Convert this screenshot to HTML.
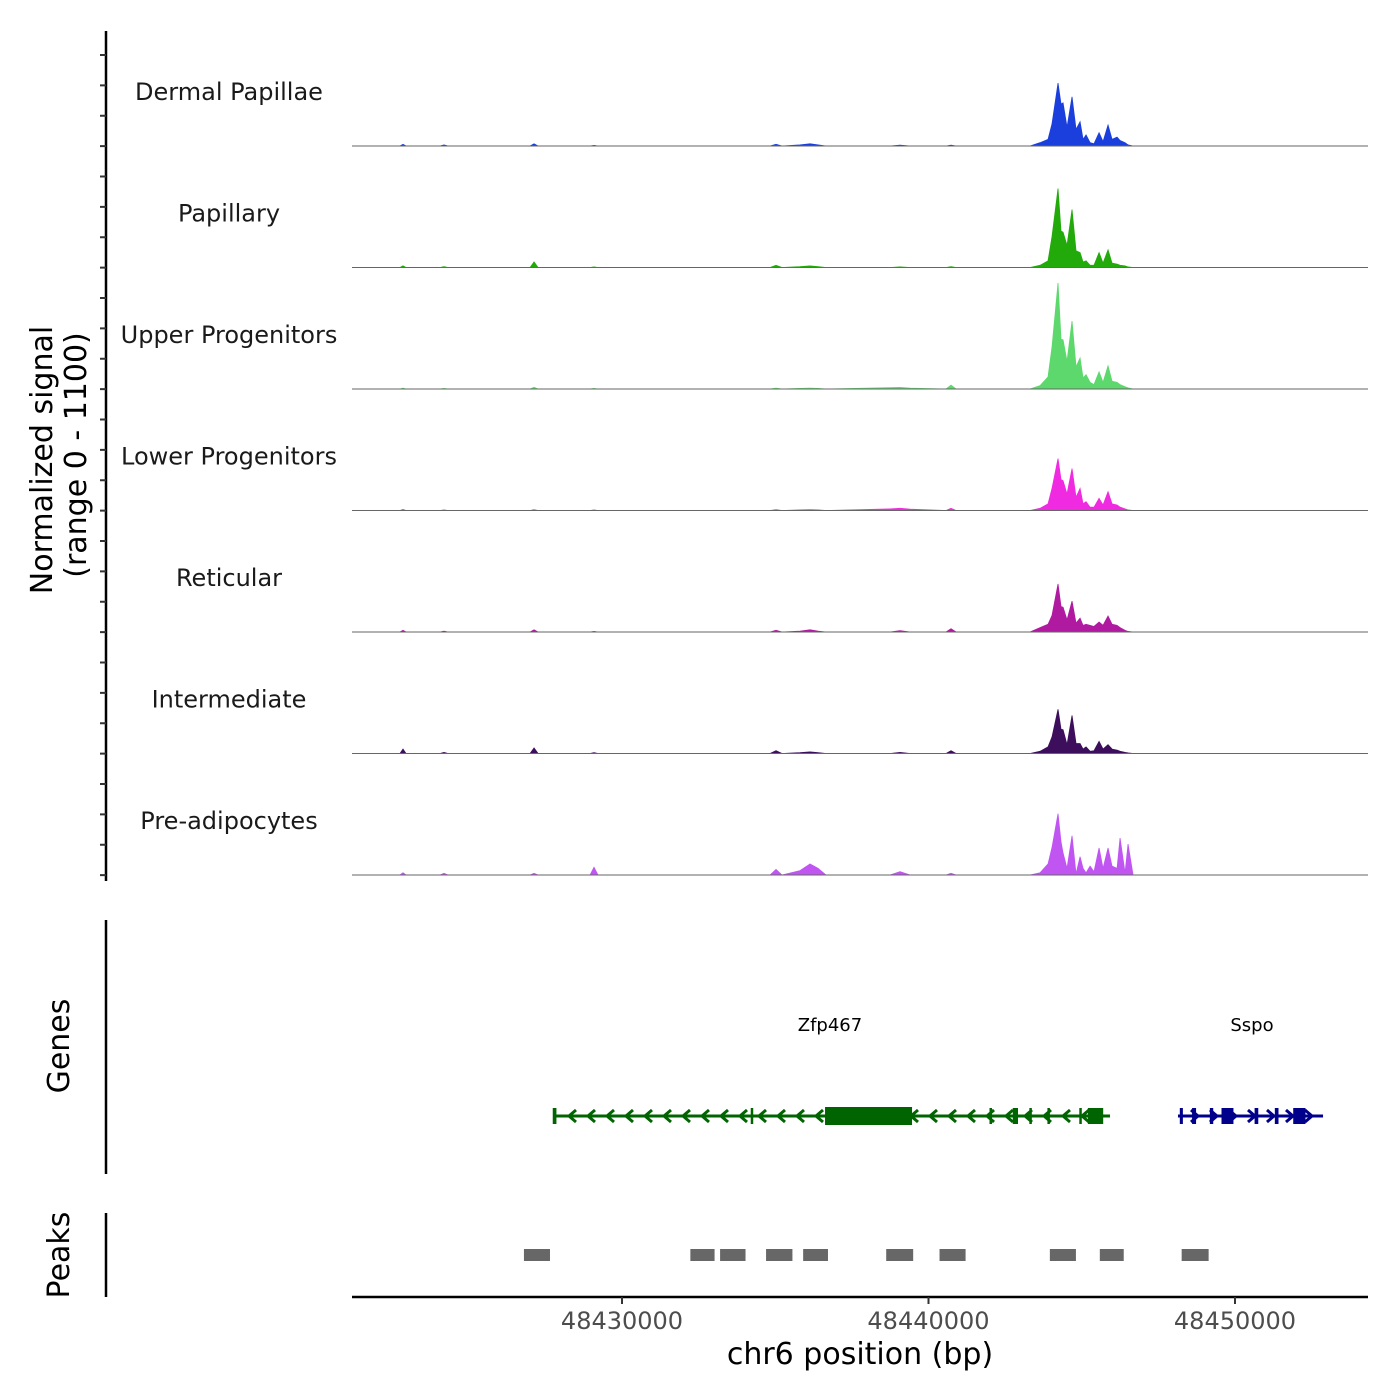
<!DOCTYPE html>
<html><head><meta charset="utf-8"><style>
html,body{margin:0;padding:0;background:#fff;}
svg{display:block;font-family:"DejaVu Sans","Liberation Sans",sans-serif;}
</style></head><body>
<svg id="chart" width="1400" height="1400" viewBox="0 0 1400 1400"></svg>
<script>
const trackNames = ["Dermal Papillae","Papillary","Upper Progenitors","Lower Progenitors","Reticular","Intermediate","Pre-adipocytes"];
const trackColors = ["#1a3fdc","#22aa0a","#5cd86c","#f02ae0","#b01aa0","#3c0e5c","#c055f2"];
const binPos = [48421190,48422756,48422854,48422952,48424062,48424192,48424322,48427000,48427130,48427260,48428956,48429086,48429217,48434830,48435025,48435220,48435808,48436135,48436396,48436657,48438745,48439071,48439398,48440573,48440735,48440898,48443313,48443640,48443900,48444030,48444226,48444324,48444390,48444520,48444683,48444814,48444945,48445043,48445141,48445272,48445400,48445565,48445695,48445858,48445989,48446152,48446250,48446413,48446511,48446674,48446902,48454340];
const sigDermal = [0,0,15,0,0,10,0,0,20,0,0,5,0,0,15,0,10,20,10,0,0,8,0,0,8,0,0,30,60,200,570,380,390,170,445,150,220,60,100,30,20,120,40,190,60,80,50,30,10,0,0,0];
const sigPapillary = [0,0,15,0,0,8,0,0,50,0,0,5,0,0,20,0,8,15,8,0,0,6,0,0,8,0,0,20,60,280,715,330,320,200,525,150,135,50,60,20,20,135,40,160,40,30,20,15,5,0,0,0];
const sigUpper = [0,0,8,0,0,5,0,0,15,0,0,5,0,0,8,0,6,8,6,0,12,15,8,0,35,0,0,30,110,380,960,450,445,250,615,200,280,100,130,60,40,155,60,210,70,60,40,20,10,0,0,0];
const sigLower = [0,0,10,0,0,5,0,0,8,0,0,5,0,0,8,0,6,8,6,0,15,20,12,0,20,0,0,20,60,200,470,280,270,150,380,120,200,60,80,30,30,110,50,170,60,50,30,15,5,0,0,0];
const sigReticular = [0,0,15,0,0,8,0,0,20,0,0,5,0,0,15,0,8,20,8,0,0,12,0,0,30,0,0,40,70,150,435,230,225,110,280,80,125,60,70,60,50,90,60,145,70,60,40,15,5,0,0,0];
const sigIntermediate = [0,0,40,0,0,10,0,0,50,0,0,8,0,0,25,0,8,15,8,0,0,10,0,0,25,0,0,20,60,150,400,220,215,80,345,90,90,40,60,20,25,110,40,80,40,30,20,10,5,0,0,0];
const sigPreadipo = [0,0,20,0,0,15,0,0,15,0,0,70,0,0,50,0,40,100,60,0,0,30,0,0,15,0,0,20,100,250,555,300,200,60,355,10,165,60,20,80,30,245,60,245,80,60,335,20,280,0,0,0];
const signals = [sigDermal,sigPapillary,sigUpper,sigLower,sigReticular,sigIntermediate,sigPreadipo];
const xTicks = [48430000,48440000,48450000];
const peakStarts = [48426800,48432230,48433200,48434700,48435910,48438620,48440360,48443960,48445590,48448260];
const peakEnds   = [48427650,48433020,48434030,48435560,48436720,48439500,48441210,48444810,48446370,48449140];
const genes = ["Zfp467","Sspo"];
const geneStarts = [48427748,48448140];
const geneEnds = [48445923,48452873];
const geneStrand = [-1,1];
const geneColors = ["#006400","#00008b"];
const zfpExonS = [48427740,48434200,48436624,48441990,48442750,48443290,48443880,48444920,48445200];
const zfpExonE = [48427860,48434240,48439463,48442040,48442920,48443330,48443920,48444960,48445700];
const sspoExonS = [48448200,48448600,48449180,48449560,48450640,48451300,48451900];
const sspoExonE = [48448300,48448730,48449290,48449950,48450760,48451420,48452300];

const NS="http://www.w3.org/2000/svg";
const svg=document.getElementById('chart');
const X0=48421190,X1=48454340,PX0=352,PX1=1368;
function xs(p){return PX0+(p-X0)/(X1-X0)*(PX1-PX0);}
const TRACK_H=121.5, MAXV=1100;
function ys(v,i){return 146+i*TRACK_H - v/MAXV*TRACK_H;}
function mk(tag,attrs,parent){const e=document.createElementNS(NS,tag);for(const k in attrs)e.setAttribute(k,attrs[k]);(parent||svg).appendChild(e);return e;}

let g=mk('g',{});


mk('line',{x1:106,y1:31,x2:106,y2:881,stroke:'#000','stroke-width':2.5},g);
for(let y=55;y<=880;y+=TRACK_H/4){
  const t=mk('line',{x1:100,y1:y,x2:106,y2:y,stroke:'#333','stroke-width':2},g);
  
  
}
let t=mk('text',{x:0,y:0,'font-size':30,'text-anchor':'middle',transform:'translate(52,460) rotate(-90)'});
t.textContent='Normalized signal';


t=mk('text',{x:0,y:0,'font-size':30,'text-anchor':'middle',transform:'translate(86,455) rotate(-90)'});
t.textContent='(range 0 - 1100)';



signals.forEach((s,i)=>{
  const base=ys(0,i);
  let d='M'+xs(binPos[0])+','+base;
  s.forEach((v,k)=>{d+=' L'+xs(binPos[k]).toFixed(2)+','+ys(v,i).toFixed(2);});
  d+=' L'+xs(binPos[binPos.length-1])+','+base+' Z';
  const p=mk('path',{d:d,fill:trackColors[i],stroke:trackColors[i],'stroke-width':0.8});
  
  
  const l=mk('line',{x1:PX0,y1:base,x2:PX1,y2:base,stroke:'#666','stroke-width':1});
  
  
  const lb=mk('text',{x:229,y:base-46,'font-size':24,'text-anchor':'middle',fill:'#1a1a1a'});
  lb.textContent=trackNames[i];
  
  
});

let ga=mk('line',{x1:106,y1:920,x2:106,y2:1174,stroke:'#000','stroke-width':2.5});


t=mk('text',{x:0,y:0,'font-size':30,'text-anchor':'middle',transform:'translate(69,1046) rotate(-90)'});
t.textContent='Genes';


const exS=[zfpExonS,sspoExonS], exE=[zfpExonE,sspoExonE];
genes.forEach((nm,i)=>{
  const gg=mk('g',{});
  
  
  const c=geneColors[i], a=xs(geneStarts[i]), b=xs(geneEnds[i]), y=1116;
  mk('line',{x1:a,y1:y,x2:b,y2:y,stroke:c,'stroke-width':3},gg);
  for(let x=a+18;x<b-8;x+=19){
    const dir=geneStrand[i];
    mk('path',{d:`M${x-5*dir},${y-6} L${x+2*dir},${y} L${x-5*dir},${y+6}`,fill:'none',stroke:c,'stroke-width':3},gg);
  }
  exS[i].forEach((s,k)=>{
    const x1=xs(s),x2=xs(exE[i][k]);
    const big = (x2-x1)>20;
    mk('rect',{x:x1,y:big?y-9:y-8,width:Math.max(2.5,x2-x1),height:big?18:16,fill:c},gg);
  });
  const lt=mk('text',{x:(i==0?830:1252),y:1031,'font-size':18,'text-anchor':'middle',fill:'#000'},gg);
  lt.textContent=nm;
});

let pa=mk('line',{x1:106,y1:1213,x2:106,y2:1297,stroke:'#000','stroke-width':2.5});


t=mk('text',{x:0,y:0,'font-size':30,'text-anchor':'middle',transform:'translate(69,1255) rotate(-90)'});
t.textContent='Peaks';


peakStarts.forEach((s,k)=>{
  const r=mk('rect',{x:xs(s),y:1249,width:xs(peakEnds[k])-xs(s),height:12,fill:'#676767'});
  
  
});

const xa=mk('g',{});


mk('line',{x1:PX0,y1:1297,x2:PX1,y2:1297,stroke:'#000','stroke-width':2.5},xa);
xTicks.forEach(v=>{
  const x=xs(v);
  mk('line',{x1:x,y1:1297,x2:x,y2:1304,stroke:'#333','stroke-width':2},xa);
  const tl=mk('text',{x:x,y:1329,'font-size':24,'text-anchor':'middle',fill:'#4d4d4d'},xa);
  tl.textContent=String(v);
  
  
});
t=mk('text',{x:860,y:1364,'font-size':30,'text-anchor':'middle',fill:'#000'});
t.textContent='chr6 position (bp)';


</script>
</body></html>
